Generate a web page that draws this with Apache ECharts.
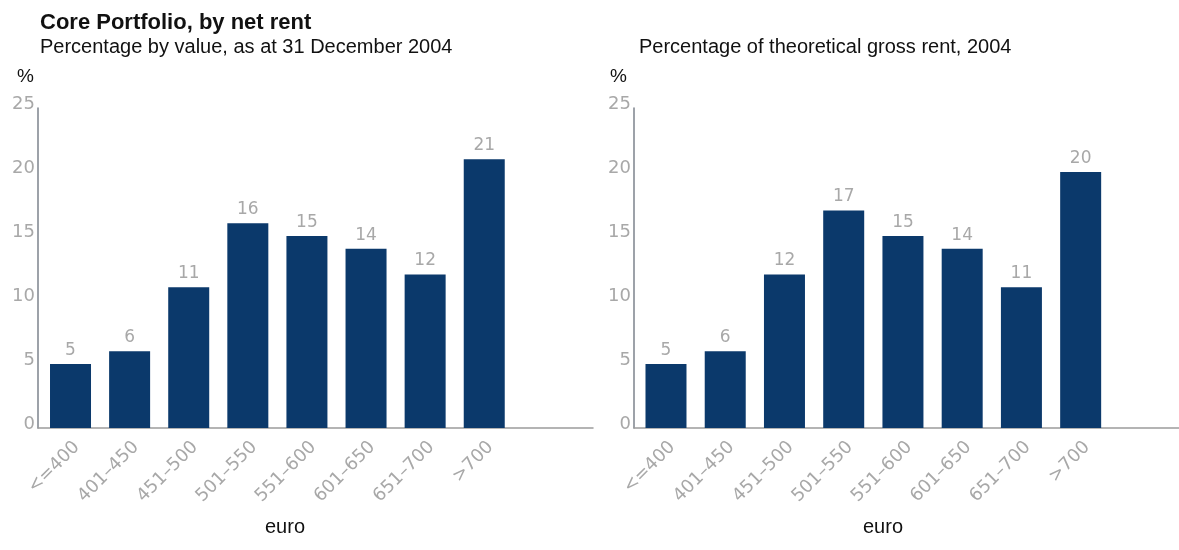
<!DOCTYPE html>
<html>
<head>
<meta charset="utf-8">
<title>Core Portfolio, by net rent</title>
<script src="https://cdn.jsdelivr.net/npm/echarts@6/dist/echarts.min.js"></script>
<style>
  html, body { margin: 0; padding: 0; background: #ffffff; }
  #chart { width: 1179px; height: 550px; }
</style>
</head>
<body>
<div id="chart"></div>
<script>
// Net rent bands (euro)
const rentBands = ['<=400', '401–450', '451–500', '501–550', '551–600', '601–650', '651–700', '>700'];
// Percentage by value, as at 31 December 2004
const shareByValue = [5, 6, 11, 16, 15, 14, 12, 21];
// Percentage of theoretical gross rent, 2004
const shareByGrossRent = [5, 6, 12, 17, 15, 14, 11, 20];
// Y-axis scale
const yMin = 0, yMax = 25, yStep = 5;

const navy = '#0b396b';
const tickGrey = '#a8a8a8';
const axisFont = 'DejaVu Sans, Verdana, sans-serif';
const textFont = 'Liberation Sans, Arial, Helvetica, sans-serif';

const bandIndex = rentBands.map((_, i) => i);

function xAxisFor(gridIndex, min, max) {
  return {
    type: 'value', gridIndex, min, max,
    axisLine: { show: true, onZero: false, lineStyle: { color: '#9c9c9c', width: 1.5 } },
    axisTick: { show: false },
    splitLine: { show: false },
    axisLabel: {
      customValues: bandIndex,
      formatter: v => rentBands[Math.round(v)],
      rotate: 45, margin: 10, verticalAlign: 'top',
      color: tickGrey, fontFamily: axisFont, fontSize: 18
    }
  };
}

function yAxisFor(gridIndex) {
  return {
    type: 'value', gridIndex, min: yMin, max: yMax, interval: yStep,
    axisLine: { show: true, onZero: false, lineStyle: { color: '#7d838d', width: 1.5 } },
    axisTick: { show: false },
    splitLine: { show: false },
    axisLabel: {
      margin: 3, verticalAlign: 'bottom', lineHeight: 8,
      color: tickGrey, fontFamily: axisFont, fontSize: 18
    }
  };
}

function barSeries(index, values) {
  return {
    type: 'bar', xAxisIndex: index, yAxisIndex: index,
    barWidth: 41,
    data: values.map((v, i) => [i, v]),
    itemStyle: { color: navy },
    label: {
      show: true, position: 'top', distance: 5,
      formatter: p => p.value[1],
      color: tickGrey, fontFamily: axisFont, fontSize: 17
    },
    silent: true
  };
}

function plainText(text, left, top, size, weight) {
  return { text, left, top,
    textStyle: { fontFamily: textFont, fontSize: size, fontWeight: weight || 'normal', color: '#111' } };
}

const chart = echarts.init(document.getElementById('chart'), null, { renderer: 'canvas' });

chart.setOption({
  backgroundColor: '#ffffff',
  animation: false,
  title: [
    plainText('Core Portfolio, by net rent', 35, 7, 22, 'bold'),
    plainText('Percentage by value, as at 31 December 2004', 35, 32, 20),
    plainText('Percentage of theoretical gross rent, 2004', 634, 32, 20),
    plainText('%', 12, 62, 19),
    plainText('%', 605, 62, 19)
  ],
  graphic: [
    { type: 'text', x: 285, y: 527,
      style: { text: 'euro', fontFamily: textFont, fontSize: 20, fill: '#111', textAlign: 'center', textVerticalAlign: 'middle' } },
    { type: 'text', x: 883, y: 527,
      style: { text: 'euro', fontFamily: textFont, fontSize: 20, fill: '#111', textAlign: 'center', textVerticalAlign: 'middle' } }
  ],
  grid: [
    { left: 38, top: 108, width: 555, height: 320 },
    { left: 634, top: 108, width: 545, height: 320 }
  ],
  xAxis: [
    xAxisFor(0, -0.55, 8.84),
    xAxisFor(1, -0.54, 8.66)
  ],
  yAxis: [yAxisFor(0), yAxisFor(1)],
  series: [
    barSeries(0, shareByValue),
    barSeries(1, shareByGrossRent)
  ]
});
</script>
</body>
</html>
